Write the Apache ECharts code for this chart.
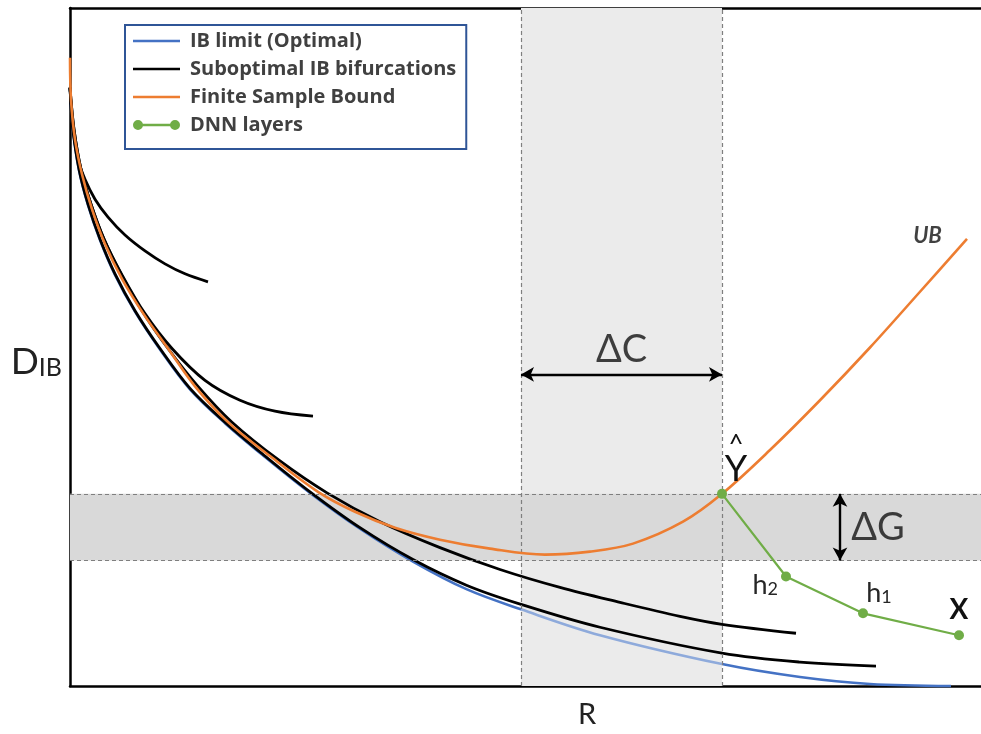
<!DOCTYPE html>
<html><head><meta charset="utf-8">
<script src="https://cdn.jsdelivr.net/npm/echarts@6/dist/echarts.min.js"></script>
<style>html,body{margin:0;padding:0;background:#fff}#c{width:981px;height:734px}</style>
</head><body><div id="c"></div>
<script>
// ---- data (abstract units: R along x, D_IB along y) ----
const rRange = [0, 911];
const dRange = [0, 681];

const ibLimit = [[0,600],[3,558],[9,518],[18,483],[30,448],[45,413],[65,376],[90,338],[120,298],[155,264],[195,230],[240,194],[290,158],[343,125],[397,97],[451,77],[530,51],[652,22],[730,9],[800,2],[881,0]];
const subLower = [[0,601],[3,559],[9,519],[18,484],[30,449],[45,414],[65,377],[90,339],[120,299],[155,265],[195,231],[240,195],[290,159],[343,127],[397,101],[451,82],[530,59],[652,33],[730,24],[806,20]];
const subUpper = [[0,601],[4,559],[11,519],[21,484],[34,449],[51,414],[72,377],[98,339],[128,301],[162,265],[210,226],[257,194],[310,165],[370,139],[430,117],[490,99],[550,84],[610,70],[652,62],[726,53]];
const subShort1 = [[0,601],[3,560],[8,529],[15,509],[25,489],[38,471],[55,453],[75,437],[95,424],[115,414],[138,406]];
const subShort2 = [[0,601],[4,559],[11,519],[21,484],[34,449],[52,413],[75,374],[102,339],[135,307],[170,287],[205,276],[243,271]];
const finiteBound = [[0,631],[1,589],[5,549],[12,514],[22,479],[35,444],[52,409],[74,373],[98,339],[125,301],[158,265],[200,231],[248,195],[285,175],[325,159],[370,147],[420,138],[475,132],[520,135],[563,143],[613,165],[652,193],[700,237],[750,287],[800,340],[850,396],[897,449]];
const dnnLayers = [[652,193],[716,110],[793,73],[889,51]];
const dnnNames = ['Y', 'h2', 'h1', 'X'];
const deltaC = [451, 652];     // R interval of the capacity gap
const deltaG = [126, 193];     // D interval of the generalization gap
const arrowCLevel = 313;       // D level of the ΔC arrow
const arrowGPos = 770;         // R position of the ΔG arrow
const annotations = [
  {name: 'ΔC', value: [551.5, 338]},
  {name: 'ΔG', value: [808, 159]},
  {name: 'UB', value: [857.5, 452.5]}
];
const legendNames = ['IB limit (Optimal)', 'Suboptimal IB bifurcations', 'Finite Sample Bound', 'DNN layers'];

// ---- styles ----
const BLUE = '#4472c4', BLUE_LIGHT = '#8eaadb', BLACK = '#000000', ORANGE = '#ed7d31', GREEN = '#70ad47';
const FONT = 'Lato';
const lineIcon = 'path://M0,0L47,0L47,2.6L0,2.6Z';
const dotIcon = 'path://M0,6A5,5,0,1,1,10,6A5,5,0,1,1,0,6ZM37,6A5,5,0,1,1,47,6A5,5,0,1,1,37,6ZM5,4.8L42,4.8L42,7.2L5,7.2Z';

function curve(name, data, color, z, width) {
  return {
    name: name, type: 'line', data: data, z: z,
    smooth: 0.35, symbol: 'none', clip: false,
    lineStyle: {color: color, width: width || 2.6},
    itemStyle: {color: color},
    silent: true
  };
}

const blueSeries = curve(legendNames[0], ibLimit, BLUE, 3, 2.6);
delete blueSeries.lineStyle.color;   // colour comes from the visualMap pieces
delete blueSeries.itemStyle;

const dnnLabelStyles = [
  {show: true, position: 'top', distance: 2, offset: [14, 0], formatter: '{h|^}\n{y|Y}',
   rich: {h: {fontFamily: FONT, fontSize: 26, lineHeight: 16, color: '#111', align: 'center'},
          y: {fontFamily: FONT, fontSize: 36, lineHeight: 34, color: '#111', align: 'center'}}},
  {show: true, position: 'left', distance: 3, offset: [0, 8], formatter: '{m|h}{s|2}',
   rich: {m: {fontFamily: FONT, fontSize: 27, color: '#262626', lineHeight: 28, verticalAlign: 'bottom'},
          s: {fontFamily: FONT, fontSize: 18, color: '#262626', lineHeight: 28, verticalAlign: 'bottom'}}},
  {show: true, position: 'top', distance: 2, offset: [16, 0], formatter: '{m|h}{s|1}',
   rich: {m: {fontFamily: FONT, fontSize: 27, color: '#262626', lineHeight: 28, verticalAlign: 'bottom'},
          s: {fontFamily: FONT, fontSize: 18, color: '#262626', lineHeight: 28, verticalAlign: 'bottom'}}},
  {show: true, position: 'top', distance: 6, formatter: 'X',
   fontFamily: FONT, fontWeight: 'bold', fontSize: 28, color: '#111'}
];

const annotationStyles = {
  'ΔC': {fontFamily: FONT, fontSize: 38, color: '#111'},
  'ΔG': {fontFamily: FONT, fontSize: 38, color: '#111'},
  'UB': {fontFamily: FONT, fontSize: 22, fontWeight: 'bold', fontStyle: 'italic', color: '#111'}
};

const option = {
  animation: false,
  backgroundColor: '#ffffff',
  grid: {left: 70, right: 0, top: 8, bottom: 45},
  visualMap: {
    type: 'piecewise', show: false, dimension: 0, seriesIndex: 4,
    pieces: [
      {lt: deltaC[0], color: BLUE},
      {gte: deltaC[0], lte: deltaC[1], color: BLUE_LIGHT},
      {gt: deltaC[1], color: BLUE}
    ]
  },
  xAxis: [{
    type: 'value', min: rRange[0], max: rRange[1],
    name: 'R', nameLocation: 'middle', nameGap: 14,
    nameTextStyle: {fontFamily: FONT, fontSize: 29, color: '#222', padding: [0, 0, 0, 123]},
    axisLine: {show: true, onZero: false, lineStyle: {color: BLACK, width: 2.5}},
    axisTick: {show: false}, axisLabel: {show: false}, splitLine: {show: false}
  }, {
    type: 'value', position: 'top', min: rRange[0], max: rRange[1],
    axisLine: {show: true, onZero: false, lineStyle: {color: BLACK, width: 2.5}},
    axisTick: {show: false}, axisLabel: {show: false}, splitLine: {show: false}
  }],
  yAxis: {
    type: 'value', min: dRange[0], max: dRange[1],
    name: '{d|D}{s|IB}', nameLocation: 'middle', nameRotate: 0, nameGap: 8,
    nameTextStyle: {padding: [27, 0, 0, 0], align: 'right',
      rich: {d: {fontFamily: FONT, fontSize: 37, color: '#222', lineHeight: 40, verticalAlign: 'bottom'},
             s: {fontFamily: FONT, fontSize: 25, color: '#222', lineHeight: 40, verticalAlign: 'bottom'}}},
    axisLine: {show: true, onZero: false, lineStyle: {color: BLACK, width: 2.5}},
    axisTick: {show: false}, axisLabel: {show: false}, splitLine: {show: false}
  },
  legend: {
    left: 125, top: 25, orient: 'vertical',
    backgroundColor: '#ffffff', borderColor: '#2f5597', borderWidth: 2,
    padding: [6, 10, 14, 8],
    itemWidth: 47, itemHeight: 14, itemGap: 8,
    selectedMode: false,
    itemStyle: {borderWidth: 0},
    textStyle: {fontFamily: 'Open Sans', fontWeight: 'bold', fontSize: 20, color: '#404040', lineHeight: 20, padding: [0, 0, 0, 5]},
    data: [
      {name: legendNames[0], icon: lineIcon, itemStyle: {color: BLUE}},
      {name: legendNames[1], icon: lineIcon, itemStyle: {color: BLACK}},
      {name: legendNames[2], icon: lineIcon, itemStyle: {color: ORANGE}},
      {name: legendNames[3], icon: dotIcon, itemStyle: {color: GREEN}}
    ]
  },
  series: [
    { // capacity band (vertical)
      type: 'line', data: [], z: 1, silent: true,
      markArea: {silent: true, itemStyle: {color: '#ebebeb'},
        data: [[{xAxis: deltaC[0]}, {xAxis: deltaC[1]}]]}
    },
    { // generalization band (horizontal)
      type: 'line', data: [], z: 1.5, silent: true,
      markArea: {silent: true, itemStyle: {color: '#d9d9d9'},
        data: [[{yAxis: deltaG[0]}, {yAxis: deltaG[1]}]]}
    },
    { // dashed band borders
      type: 'line', data: [], z: 2, silent: true,
      markLine: {silent: true, symbol: 'none', label: {show: false},
        lineStyle: {color: '#7f7f7f', width: 1.2, type: [4, 3]},
        data: [
          {xAxis: deltaC[0]}, {xAxis: deltaC[1]},
          {yAxis: deltaG[0]}, {yAxis: deltaG[1]}
        ]}
    },
    { // ΔC and ΔG arrows
      type: 'line', data: [], z: 6, silent: true,
      markLine: {silent: true, symbol: ['arrow', 'arrow'], symbolSize: [11, 13], label: {show: false},
        lineStyle: {color: BLACK, width: 2.4, type: 'solid'},
        data: [
          [{coord: [deltaC[0], arrowCLevel]}, {coord: [deltaC[1], arrowCLevel]}],
          [{coord: [arrowGPos, deltaG[0]]}, {coord: [arrowGPos, deltaG[1]]}]
        ]}
    },
    blueSeries,
    curve(legendNames[1], subLower, BLACK, 4, 2.8),
    curve(legendNames[1], subUpper, BLACK, 4, 2.8),
    curve(legendNames[1], subShort1, BLACK, 4, 2.8),
    curve(legendNames[1], subShort2, BLACK, 4, 2.8),
    curve(legendNames[2], finiteBound, ORANGE, 5, 2.6),
    {
      name: legendNames[3], type: 'line', z: 7, silent: true,
      data: dnnLayers.map(function (p, i) { return {value: p, label: dnnLabelStyles[i]}; }),
      symbol: 'circle', symbolSize: 10, showSymbol: true,
      lineStyle: {color: GREEN, width: 2.2}, itemStyle: {color: GREEN}
    },
    {
      type: 'scatter', z: 8, silent: true, symbolSize: 1,
      itemStyle: {color: 'rgba(0,0,0,0)'},
      data: annotations.map(function (a) {
        return {value: a.value, label: Object.assign({show: true, position: 'inside', formatter: a.name}, annotationStyles[a.name])};
      })
    }
  ]
};

const chart = echarts.init(document.getElementById('c'), null, {renderer: 'canvas'});
chart.setOption(option);
</script>
</body></html>
